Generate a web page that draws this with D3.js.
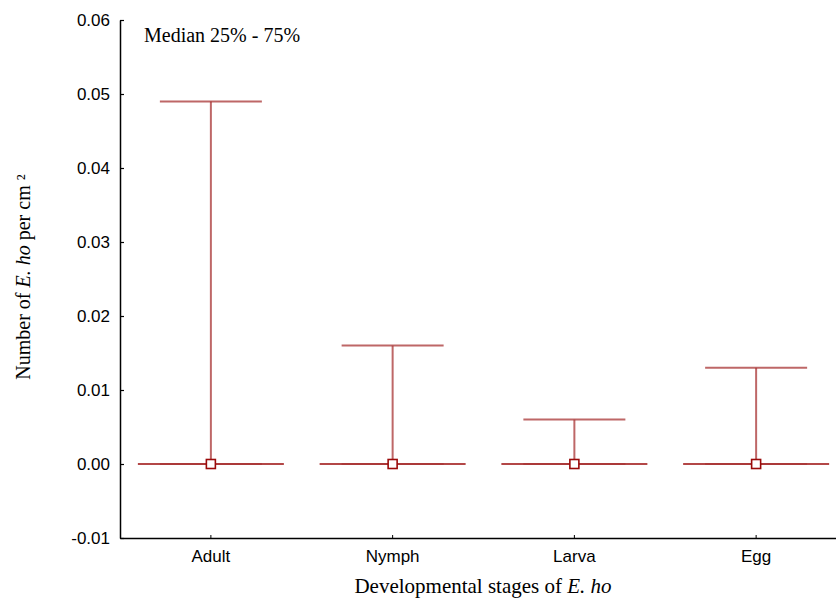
<!DOCTYPE html>
<html><head><meta charset="utf-8">
<script src="https://cdn.jsdelivr.net/npm/d3@7"></script>
<style>body{margin:0;background:#fff}svg{display:block}</style>
</head><body>
<svg id="c" width="836" height="599"></svg>
<script>
const categories = ["Adult", "Nymph", "Larva", "Egg"];
const medians = [0, 0, 0, 0];
const q25 = [0, 0, 0, 0];
const q75 = [0.049, 0.016, 0.006, 0.013];
const yTicks = [-0.01, 0, 0.01, 0.02, 0.03, 0.04, 0.05, 0.06];

const svg = d3.select("#c");
const x = d3.scaleBand().domain(categories).range([120, 847]).padding(0);
const y = d3.scaleLinear().domain([-0.01, 0.06]).range([538, 20]);

const sans = "Liberation Sans, Arial, sans-serif";
const serif = "Liberation Serif, Times New Roman, serif";
const fmt = d => d3.format(".2f")(d).replace("\u2212", "-");

// axes
const yAx = svg.append("g").attr("transform", "translate(120,0)")
  .call(d3.axisLeft(y).tickValues(yTicks).tickSizeInner(-4).tickSizeOuter(0).tickPadding(10).tickFormat(fmt));
yAx.select(".domain").attr("stroke", "#000").attr("stroke-width", 1.5);
yAx.selectAll(".tick line").attr("stroke", "#000").attr("stroke-width", 1.2);
yAx.selectAll(".tick text").attr("font-family", sans).attr("font-size", 17).attr("fill", "#000");

const xAx = svg.append("g").attr("transform", "translate(0,538)")
  .call(d3.axisBottom(x).tickSizeInner(-3).tickSizeOuter(0).tickPadding(12));
xAx.select(".domain").attr("stroke", "#000").attr("stroke-width", 1.5);
xAx.selectAll(".tick line").attr("stroke", "#000").attr("stroke-width", 1);
xAx.selectAll(".tick text").attr("font-family", sans).attr("font-size", 17).attr("fill", "#000");

const data = categories.map((c, i) => ({c, med: medians[i], lo: q25[i], hi: q75[i]}));
const g = svg.append("g");
const capW = 102, medW = 146, sq = 9;
data.forEach(d => {
  const cx = x(d.c) + x.bandwidth() / 2;
  // median line
  g.append("line").attr("x1", cx - medW/2).attr("x2", cx + medW/2)
    .attr("y1", y(d.med)).attr("y2", y(d.med)).attr("stroke", "#9a0a0a").attr("stroke-width", 1.6);
  // whisker
  g.append("line").attr("x1", cx).attr("x2", cx).attr("y1", y(d.lo)).attr("y2", y(d.hi))
    .attr("stroke", "#a83434").attr("stroke-opacity", 0.75).attr("stroke-width", 2);
  // caps
  [d.lo, d.hi].forEach(v => {
    g.append("line").attr("x1", cx - capW/2).attr("x2", cx + capW/2)
      .attr("y1", y(v)).attr("y2", y(v)).attr("stroke", "#a83434").attr("stroke-opacity", 0.75).attr("stroke-width", 2);
  });
  // median marker
  g.append("rect").attr("x", cx - sq/2).attr("y", y(d.med) - sq/2).attr("width", sq).attr("height", sq)
    .attr("fill", "#fff").attr("stroke", "#9a0a0a").attr("stroke-width", 1.6);
});

// legend text
svg.append("text").attr("x", 144).attr("y", 42).attr("font-family", serif)
  .attr("font-size", 20).attr("fill", "#000").text("Median 25% - 75%");

// x label
const xl = svg.append("text").attr("x", 483).attr("y", 593).attr("text-anchor", "middle")
  .attr("font-family", serif).attr("font-size", 21).attr("fill", "#000");
xl.append("tspan").text("Developmental stages of ");
xl.append("tspan").attr("font-style", "italic").text("E. ho");

// y label
const yl = svg.append("text").attr("transform", "translate(30,277) rotate(-90)").attr("text-anchor", "middle")
  .attr("font-family", serif).attr("font-size", 20).attr("fill", "#000");
yl.append("tspan").text("Number of ");
yl.append("tspan").attr("font-style", "italic").text("E. ho");
yl.append("tspan").text(" per cm ²");
</script>
</body></html>
